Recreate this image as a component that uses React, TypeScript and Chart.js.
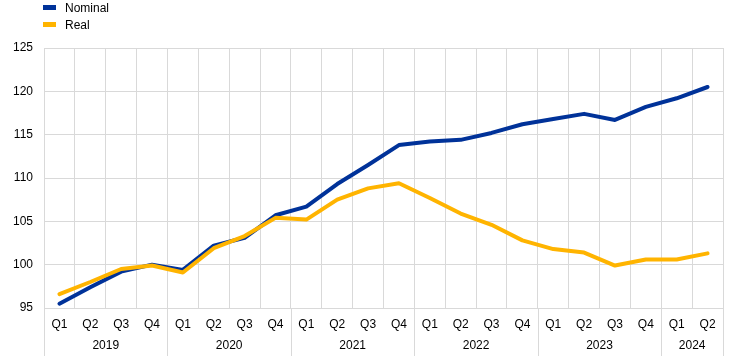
import React, { useEffect, useRef } from 'react';
import { Chart, registerables } from 'chart.js';
Chart.register(...registerables);

const quarters = ['Q1','Q2','Q3','Q4','Q1','Q2','Q3','Q4','Q1','Q2','Q3','Q4','Q1','Q2','Q3','Q4','Q1','Q2','Q3','Q4','Q1','Q2'];
const years = ['2019','2019','2019','2019','2020','2020','2020','2020','2021','2021','2021','2021','2022','2022','2022','2022','2023','2023','2023','2023','2024','2024'];
const nominal = [95.5, 97.4, 99.2, 100.0, 99.4, 102.2, 103.1, 105.7, 106.7, 109.3, 111.5, 113.8, 114.2, 114.4, 115.2, 116.2, 116.8, 117.4, 116.7, 118.2, 119.2, 120.5];
const real = [96.6, 98.0, 99.5, 99.9, 99.1, 101.9, 103.3, 105.4, 105.2, 107.5, 108.8, 109.4, 107.7, 105.9, 104.6, 102.8, 101.8, 101.4, 99.9, 100.6, 100.6, 101.3];
const seriesNames = ['Nominal', 'Real'];
const seriesColors = ['#003299', '#FFB400'];
const yMin = 95;
const yMax = 125;
const yStep = 5;

const FONT = '"Liberation Sans", Arial, sans-serif';
const GRID = '#d9d9d9';

const extrasPlugin = {
  id: 'extras',
  afterDraw(chart: any) {
    const ctx = chart.ctx;
    const xs = chart.scales.x;
    const area = chart.chartArea;
    const H = chart.height;
    ctx.save();
    ctx.strokeStyle = GRID;
    ctx.lineWidth = 1;
    const bounds: number[] = [area.left];
    for (let i = 1; i < years.length; i++) {
      if (years[i] !== years[i - 1]) {
        bounds.push((xs.getPixelForTick(i - 1) + xs.getPixelForTick(i)) / 2);
      }
    }
    bounds.push(area.right);
    bounds.forEach((bx) => {
      const px = Math.round(bx) + 0.5;
      ctx.beginPath();
      ctx.moveTo(px, area.bottom);
      ctx.lineTo(px, H);
      ctx.stroke();
    });
    ctx.fillStyle = '#000';
    ctx.font = '12px ' + FONT;
    ctx.textAlign = 'center';
    ctx.textBaseline = 'middle';
    let start = 0;
    for (let i = 1; i <= years.length; i++) {
      if (i === years.length || years[i] !== years[start]) {
        const cx = (xs.getPixelForTick(start) + xs.getPixelForTick(i - 1)) / 2;
        ctx.fillText(years[start], cx, 346);
        start = i;
      }
    }
    ctx.textAlign = 'left';
    seriesNames.forEach((name, k) => {
      const y = 8 + k * 17;
      ctx.fillStyle = seriesColors[k];
      ctx.fillRect(43, y - 3, 13, 5);
      ctx.fillStyle = '#000';
      ctx.fillText(name, 65, y + 1);
    });
    ctx.restore();
  },
};

export default function App() {
  const ref = useRef<HTMLCanvasElement>(null);
  useEffect(() => {
    if (!ref.current) return;
    const chart = new Chart(ref.current, {
      type: 'line',
      data: {
        labels: quarters,
        datasets: [
          {
            label: seriesNames[0],
            data: nominal,
            borderColor: seriesColors[0],
            backgroundColor: seriesColors[0],
            borderWidth: 4,
            pointRadius: 0,
            tension: 0,
            borderCapStyle: 'round',
            borderJoinStyle: 'round',
            order: 1,
          },
          {
            label: seriesNames[1],
            data: real,
            borderColor: seriesColors[1],
            backgroundColor: seriesColors[1],
            borderWidth: 4,
            pointRadius: 0,
            tension: 0,
            borderCapStyle: 'round',
            borderJoinStyle: 'round',
            order: 0,
          },
        ],
      },
      options: {
        responsive: false,
        animation: false,
        layout: { padding: { top: 48, right: 22, left: 0, bottom: 0 } },
        plugins: { legend: { display: false }, tooltip: { enabled: false } },
        scales: {
          x: {
            offset: true,
            grid: { offset: true, color: GRID, drawTicks: false },
            border: { color: GRID },
            ticks: { color: '#000', font: { family: FONT, size: 12 }, padding: 9, maxRotation: 0, autoSkip: false },
            afterFit: (s: any) => { s.height = 48; },
          },
          y: {
            min: yMin,
            max: yMax,
            grid: { color: GRID, drawTicks: false },
            border: { color: GRID },
            ticks: { stepSize: yStep, color: '#000', font: { family: FONT, size: 12 }, padding: 11 },
            afterFit: (s: any) => { s.width = 44; },
          },
        },
      },
      plugins: [extrasPlugin],
    } as any);
    return () => chart.destroy();
  }, []);
  return (
    <div style={{ position: 'absolute', left: 0, top: 0, width: 745, height: 356, background: '#fff' }}>
      <canvas ref={ref} width={745} height={356} style={{ display: 'block' }} />
    </div>
  );
}
